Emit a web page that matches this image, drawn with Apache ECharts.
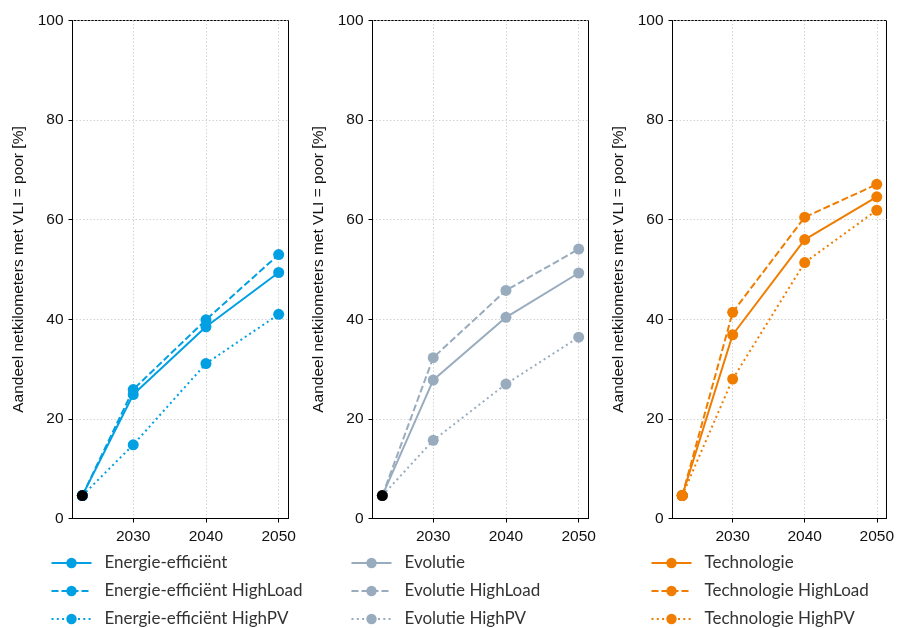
<!DOCTYPE html>
<html>
<head>
<meta charset="utf-8">
<script src="https://cdn.jsdelivr.net/npm/echarts@6/dist/echarts.min.js"></script>
<style>html,body{margin:0;padding:0;background:#fff}#c{width:897px;height:628px}</style>
</head>
<body>
<div id="c"></div>
<script>
const years = [2023, 2030, 2040, 2050];
const xTicks = [2030, 2040, 2050];
const startValue = 4.6;

const eeNames = ['Energie-efficiënt', 'Energie-efficiënt HighLoad', 'Energie-efficiënt HighPV'];
const eeBase = [4.6, 24.9, 38.5, 49.4];
const eeHighLoad = [4.6, 25.9, 39.9, 53.0];
const eeHighPV = [4.6, 14.8, 31.1, 41.0];

const evNames = ['Evolutie', 'Evolutie HighLoad', 'Evolutie HighPV'];
const evBase = [4.6, 27.8, 40.4, 49.3];
const evHighLoad = [4.6, 32.3, 45.8, 54.1];
const evHighPV = [4.6, 15.7, 27.0, 36.4];

const teNames = ['Technologie', 'Technologie HighLoad', 'Technologie HighPV'];
const teBase = [4.6, 36.9, 56.0, 64.6];
const teHighLoad = [4.6, 41.4, 60.5, 67.1];
const teHighPV = [4.6, 28.0, 51.4, 61.9];

const yLabel = 'Aandeel netkilometers met VLI = poor [%]';

const panels = [
  {names: eeNames, data: [eeBase, eeHighLoad, eeHighPV], color: '#00a0e3', blackOnTop: true},
  {names: evNames, data: [evBase, evHighLoad, evHighPV], color: '#98acbe', blackOnTop: true},
  {names: teNames, data: [teBase, teHighLoad, teHighPV], color: '#f07d00', blackOnTop: false}
];
const lineTypes = ['solid', [7, 3], [2, 3.3]];
const lefts = [72.5, 372.5, 672.5];
const plotW = 216;

const grids = [], xAxes = [], yAxes = [], series = [], legends = [];
panels.forEach((p, i) => {
  grids.push({left: lefts[i], top: 20.5, width: plotW, height: 498, show: true, borderColor: '#000', borderWidth: 1});
  xAxes.push({
    type: 'value', gridIndex: i, min: 2021.65, max: 2051.35,
    axisLine: {lineStyle: {color: '#000', width: 1}},
    axisTick: {show: true, length: 4, customValues: xTicks, lineStyle: {color: '#000'}},
    axisLabel: {customValues: xTicks, formatter: v => String(v), color: '#111', fontSize: 15.5, fontFamily: 'Liberation Sans', margin: 10},
    splitLine: {show: true, lineStyle: {color: '#c8c8c8', type: [1.5, 2], width: 0.8}}
  });
  yAxes.push({
    type: 'value', gridIndex: i, min: 0, max: 100, interval: 20,
    name: yLabel, nameLocation: 'middle', nameGap: 46,
    nameTextStyle: {color: '#111', fontSize: 15.5, fontFamily: 'Liberation Sans'},
    axisLine: {show: true, lineStyle: {color: '#000', width: 1}},
    axisTick: {show: true, length: 4, lineStyle: {color: '#000'}},
    axisLabel: {color: '#111', fontSize: 15.5, fontFamily: 'Liberation Sans', margin: 9},
    splitLine: {show: true, lineStyle: {color: '#c8c8c8', type: [1.5, 2], width: 0.8}}
  });
  const black = {
    type: 'line', xAxisIndex: i, yAxisIndex: i, name: 'start' + i,
    data: [[years[0], startValue]], symbol: 'circle', symbolSize: 11,
    itemStyle: {color: '#000'}, silent: true, z: p.blackOnTop ? 5 : 1
  };
  if (!p.blackOnTop) series.push(black);
  p.data.forEach((d, j) => {
    series.push({
      type: 'line', name: p.names[j], xAxisIndex: i, yAxisIndex: i,
      data: years.map((y, k) => [y, d[k]]),
      symbol: 'circle', symbolSize: 11, showSymbol: true,
      lineStyle: {color: p.color, width: 2, type: lineTypes[j]},
      itemStyle: {color: p.color}, z: 3
    });
  });
  if (p.blackOnTop) series.push(black);
  legends.push({
    data: p.names, orient: 'vertical', left: lefts[i] - 22, top: 554, padding: 0,
    itemWidth: 40, itemHeight: 13, itemGap: 10,
    textStyle: {fontSize: 17, lineHeight: 18, fontFamily: 'Lato', color: '#333', padding: [0, 0, 0, 8]},
    selectedMode: false
  });
});

const chart = echarts.init(document.getElementById('c'), null, {renderer: 'canvas'});
chart.setOption({
  animation: false,
  backgroundColor: '#fff',
  grid: grids, xAxis: xAxes, yAxis: yAxes, series: series, legend: legends
});
</script>
</body>
</html>
